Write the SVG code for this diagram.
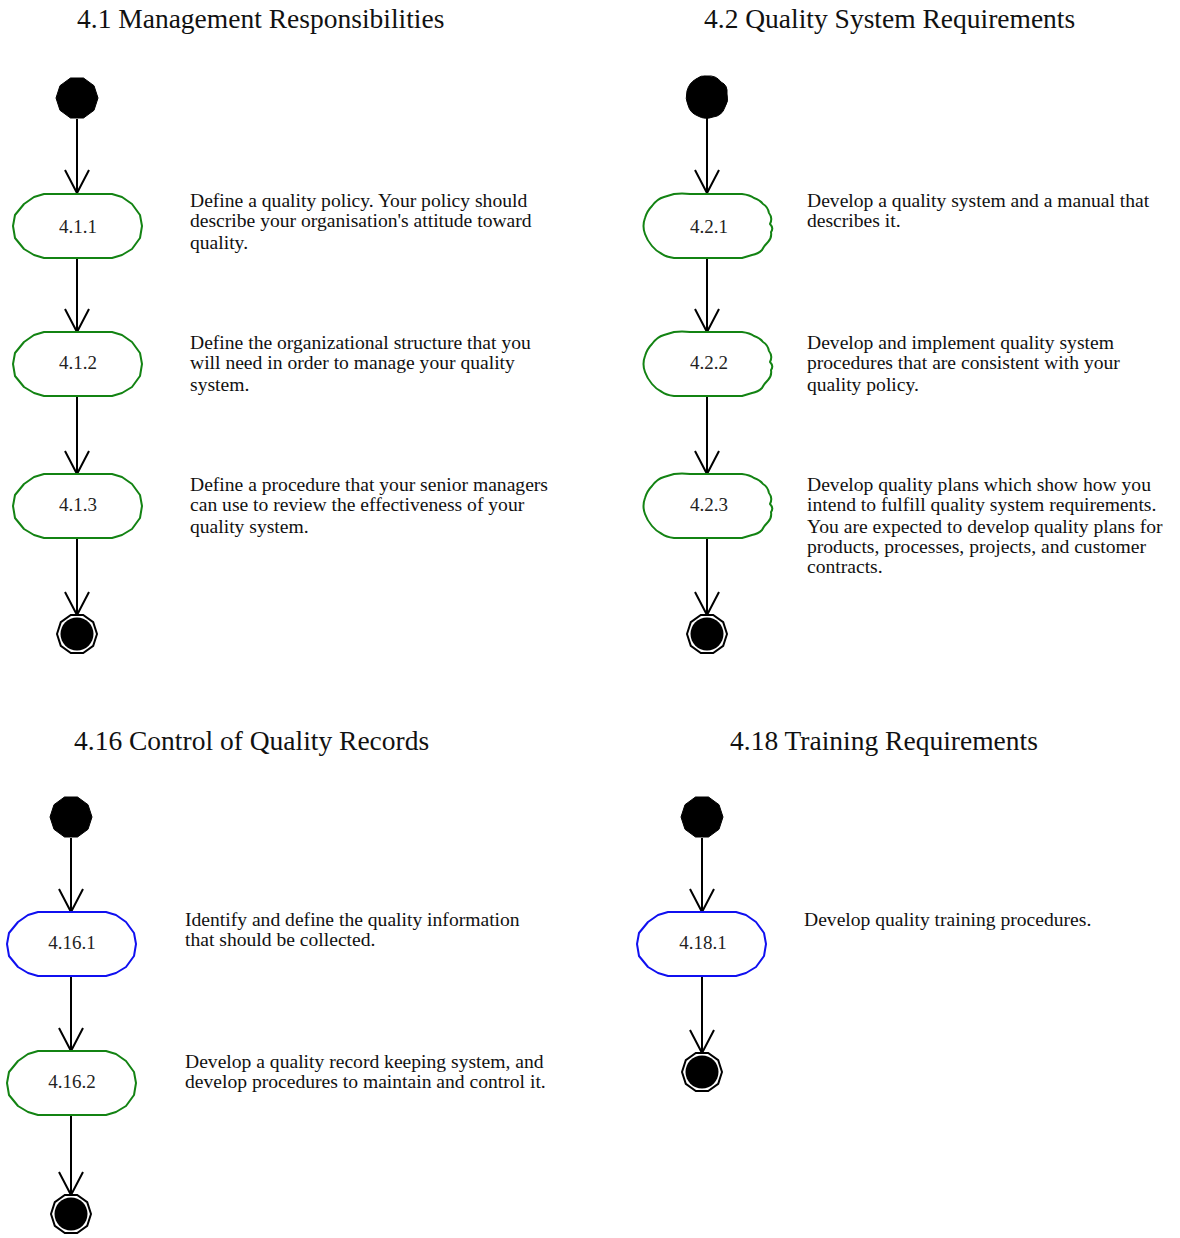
<svg xmlns="http://www.w3.org/2000/svg" width="1180" height="1238" viewBox="0 0 1180 1238">
  <style>
    .title { font-family: "Liberation Serif", "Times New Roman", serif; font-size: 27.5px; fill: #111; }
    .desc { font-family: "Liberation Serif", "Times New Roman", serif; font-size: 19.6px; fill: #111; }
    .lbl { font-family: "Liberation Serif", "Times New Roman", serif; font-size: 19px; fill: #222; text-anchor: middle; }
    .act { fill: #fff; stroke-width: 2; stroke-linejoin: round; }
    .green { stroke: #138313; }
    .blue { stroke: #1010f0; }
    .flow { stroke: #000; stroke-width: 2; fill: none; marker-end: url(#vhead); }
    .start { fill: #000; stroke: #000; stroke-width: 1; }
    .endring { fill: #fff; stroke: #000; stroke-width: 2; }
  </style>
  <defs>
    <marker id="vhead" markerUnits="userSpaceOnUse" markerWidth="30" markerHeight="30" viewBox="-26 -15 30 30" refX="0" refY="0" orient="auto" overflow="visible">
      <path d="M-23,-12 L0,0 L-23,12" fill="none" stroke="#000" stroke-width="2"/>
    </marker>
    <!-- activity outline, 131 x 64, origin at top-left -->
    <path id="actShape" d="M32,0 L100,0 L110,3 L120,10 L128,21 L130,32 L128,44 L120,55 L110,61 L100,64 L32,64 L22,61 L12,55 L3,44 L1,32 L3,21 L12,10 L22,3 Z"/>
    <!-- hand-drawn variant with a slightly wavy outline -->
    <path id="actShapeWavy" d="M32,0 Q40,-1 48,0 L100,0 Q108,1 112,4 Q118,6 121,10 Q126,13 127,19 Q131,24 128,30 Q132,34 129,38 Q130,44 126,48 Q122,52 120,56 Q116,60 110,61 L100,64 L32,64 Q24,63 20,60 Q14,57 10,52 Q5,46 3,40 Q0,32 3,24 Q5,17 10,12 Q15,5 22,3 Z"/>
    <polygon id="startDot" points="21,0 17,12.3 6.5,20 -6.5,20 -17,12.3 -21,0 -17,-12.3 -6.5,-20 6.5,-20 17,-12.3"/>
    <path id="startBlob" d="M0,-21 Q9,-22 14,-15 Q21,-12 20,-3 Q22,4 18,10 Q15,19 6,20 Q-2,23 -9,19 Q-17,16 -19,8 Q-22,2 -20,-6 Q-18,-14 -11,-18 Q-6,-22 0,-21 Z"/>
    <polygon id="endRing" points="20,0 16.2,11.8 6.2,19 -6.2,19 -16.2,11.8 -20,0 -16.2,-11.8 -6.2,-19 6.2,-19 16.2,-11.8"/>
  </defs>

  <!-- titles -->
  <text class="title" x="77" y="28">4.1 Management Responsibilities</text>
  <text class="title" x="704" y="28">4.2 Quality System Requirements</text>
  <text class="title" x="74" y="750">4.16 Control of Quality Records</text>
  <text class="title" x="730" y="750">4.18 Training Requirements</text>

  <!-- connectors -->
  <g id="connectors">
    <line class="flow" x1="77" y1="119" x2="77" y2="193"/>
    <line class="flow" x1="77" y1="259" x2="77" y2="332"/>
    <line class="flow" x1="77" y1="396" x2="77" y2="474"/>
    <line class="flow" x1="77" y1="538" x2="77" y2="615"/>

    <line class="flow" x1="707" y1="118" x2="707" y2="193"/>
    <line class="flow" x1="707" y1="259" x2="707" y2="332"/>
    <line class="flow" x1="707" y1="396" x2="707" y2="474"/>
    <line class="flow" x1="707" y1="538" x2="707" y2="615"/>

    <line class="flow" x1="71" y1="838" x2="71" y2="912"/>
    <line class="flow" x1="71" y1="977" x2="71" y2="1051"/>
    <line class="flow" x1="71" y1="1115" x2="71" y2="1195"/>

    <line class="flow" x1="702" y1="838" x2="702" y2="912"/>
    <line class="flow" x1="702" y1="977" x2="702" y2="1053"/>
  </g>

  <!-- 4.1 -->
  <g id="start-4-1"><use href="#startDot" class="start" transform="translate(77,98)"/></g>
  <g id="act-4-1-1">
    <use href="#actShape" class="act green" transform="translate(12,194)"/>
    <text class="lbl" x="78" y="233">4.1.1</text>
    <text class="desc" x="190" y="207">Define a quality policy. Your policy should</text>
    <text class="desc" x="190" y="227">describe your organisation's attitude toward</text>
    <text class="desc" x="190" y="249">quality.</text>
  </g>
  <g id="act-4-1-2">
    <use href="#actShape" class="act green" transform="translate(12,332)"/>
    <text class="lbl" x="78" y="369">4.1.2</text>
    <text class="desc" x="190" y="349">Define the organizational structure that you</text>
    <text class="desc" x="190" y="369">will need in order to manage your quality</text>
    <text class="desc" x="190" y="391">system.</text>
  </g>
  <g id="act-4-1-3">
    <use href="#actShape" class="act green" transform="translate(12,474)"/>
    <text class="lbl" x="78" y="511">4.1.3</text>
    <text class="desc" x="190" y="491">Define a procedure that your senior managers</text>
    <text class="desc" x="190" y="511">can use to review the effectiveness of your</text>
    <text class="desc" x="190" y="533">quality system.</text>
  </g>
  <g id="end-4-1">
    <use href="#endRing" class="endring" transform="translate(77,634)"/>
    <circle cx="77" cy="634" r="16.5" fill="#000"/>
  </g>

  <!-- 4.2 -->
  <g id="start-4-2"><use href="#startBlob" class="start" transform="translate(707,97)"/></g>
  <g id="act-4-2-1">
    <use href="#actShapeWavy" class="act green" transform="translate(642,194)"/>
    <text class="lbl" x="709" y="233">4.2.1</text>
    <text class="desc" x="807" y="207">Develop a quality system and a manual that</text>
    <text class="desc" x="807" y="227">describes it.</text>
  </g>
  <g id="act-4-2-2">
    <use href="#actShapeWavy" class="act green" transform="translate(642,332)"/>
    <text class="lbl" x="709" y="369">4.2.2</text>
    <text class="desc" x="807" y="349">Develop and implement quality system</text>
    <text class="desc" x="807" y="369">procedures that are consistent with your</text>
    <text class="desc" x="807" y="391">quality policy.</text>
  </g>
  <g id="act-4-2-3">
    <use href="#actShapeWavy" class="act green" transform="translate(642,474)"/>
    <text class="lbl" x="709" y="511">4.2.3</text>
    <text class="desc" x="807" y="491">Develop quality plans which show how you</text>
    <text class="desc" x="807" y="511">intend to fulfill quality system requirements.</text>
    <text class="desc" x="807" y="533">You are expected to develop quality plans for</text>
    <text class="desc" x="807" y="553">products, processes, projects, and customer</text>
    <text class="desc" x="807" y="573">contracts.</text>
  </g>
  <g id="end-4-2">
    <use href="#endRing" class="endring" transform="translate(707,634)"/>
    <circle cx="707" cy="634" r="16.5" fill="#000"/>
  </g>

  <!-- 4.16 -->
  <g id="start-4-16"><use href="#startDot" class="start" transform="translate(71,817)"/></g>
  <g id="act-4-16-1">
    <use href="#actShape" class="act blue" transform="translate(6,912)"/>
    <text class="lbl" x="72" y="949">4.16.1</text>
    <text class="desc" x="185" y="926">Identify and define the quality information</text>
    <text class="desc" x="185" y="946">that should be collected.</text>
  </g>
  <g id="act-4-16-2">
    <use href="#actShape" class="act green" transform="translate(6,1051)"/>
    <text class="lbl" x="72" y="1088">4.16.2</text>
    <text class="desc" x="185" y="1068">Develop a quality record keeping system, and</text>
    <text class="desc" x="185" y="1088">develop procedures to maintain and control it.</text>
  </g>
  <g id="end-4-16">
    <use href="#endRing" class="endring" transform="translate(71,1214)"/>
    <circle cx="71" cy="1214" r="16.5" fill="#000"/>
  </g>

  <!-- 4.18 -->
  <g id="start-4-18"><use href="#startDot" class="start" transform="translate(702,817)"/></g>
  <g id="act-4-18-1">
    <use href="#actShape" class="act blue" transform="translate(636,912)"/>
    <text class="lbl" x="703" y="949">4.18.1</text>
    <text class="desc" x="804" y="926">Develop quality training procedures.</text>
  </g>
  <g id="end-4-18">
    <use href="#endRing" class="endring" transform="translate(702,1072)"/>
    <circle cx="702" cy="1072" r="16.5" fill="#000"/>
  </g>
</svg>
